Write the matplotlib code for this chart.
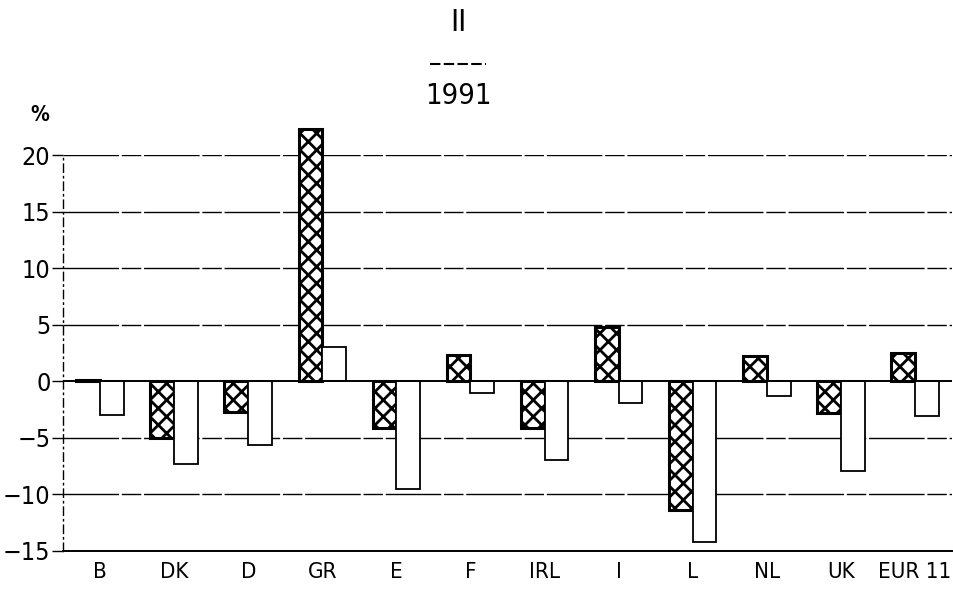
import matplotlib.pyplot as plt
from matplotlib.lines import Line2D
import numpy as np

countries = ['B', 'DK', 'D', 'GR', 'E', 'F', 'IRL', 'I', 'L', 'NL', 'UK', 'EUR 11']
hatched_vals = [0.15, -5.0, -2.7, 22.3, -4.1, 2.3, -4.1, 4.8, -11.4, 2.2, -2.8, 2.5]
white_vals = [-3.0, -7.3, -5.6, 3.0, -9.5, -1.0, -7.0, -1.9, -14.2, -1.3, -7.9, -3.1]
yticks = [-15, -10, -5, 0, 5, 10, 15, 20]

plt.rcParams['font.family'] = ['DejaVu Sans']
plt.rcParams['font.stretch'] = 'condensed'
plt.rcParams['hatch.linewidth'] = 2.0

fig = plt.figure(figsize=(9.54, 5.91), dpi=100)
ax = fig.add_axes([0.066, 0.0677, 0.932, 0.670])

x = np.arange(len(countries))
w = 0.32
ax.bar(x - w / 2, hatched_vals, width=w, facecolor='white', edgecolor='black',
       hatch='xx', linewidth=2.2, clip_on=False, zorder=3)
ax.bar(x + w / 2, white_vals, width=w, facecolor='white', edgecolor='black',
       linewidth=1.3, clip_on=False, zorder=3)

# grid lines
for t in yticks:
    if t == 0:
        ax.axhline(0, color='black', lw=1.4, zorder=4)
    elif t != -15:
        ax.axhline(t, color='black', lw=1.0, linestyle=(0, (40, 2, 14, 2)), zorder=1)

ax.set_xlim(-0.5, len(countries) - 0.5)
ax.set_ylim(-15, 20)
ax.set_yticks(yticks)
ax.set_yticklabels([str(t).replace('-', '\u2212') for t in yticks], fontsize=18)
ax.tick_params(axis='y', direction='out', length=8, width=1, pad=1)
ax.set_xticks(x)
ax.set_xticklabels(countries, fontsize=16)
ax.tick_params(axis='x', length=0, pad=8)

for s in ['top', 'right']:
    ax.spines[s].set_visible(False)
ax.spines['left'].set_linestyle((0, (6, 3, 1, 3)))
ax.spines['left'].set_linewidth(1.0)
ax.spines['bottom'].set_linewidth(1.4)

fig.text(0.48, 0.962, 'II', ha='center', va='center', fontsize=22)
fig.add_artist(Line2D([0.451, 0.509], [0.892, 0.892], color='black', lw=1.5,
                      linestyle=(0, (5, 1.6)), transform=fig.transFigure))
fig.text(0.48, 0.838, '1991', ha='center', va='center', fontsize=21)
fig.text(0.042, 0.805, '%', ha='center', va='center', fontsize=15, fontweight='bold')

fig.savefig('out.png', dpi=100)
